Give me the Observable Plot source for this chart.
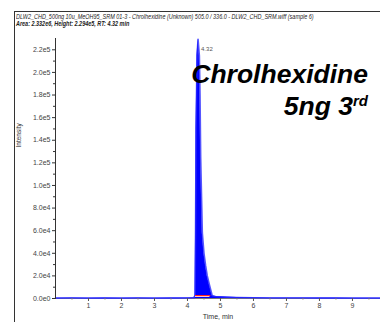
<!DOCTYPE html>
<html><head><meta charset="utf-8">
<script src="https://cdn.jsdelivr.net/npm/d3@7"></script>
<script src="https://cdn.jsdelivr.net/npm/@observablehq/plot@0.6"></script>
<style>
body{margin:0;background:#fff;}
#wrap{position:relative;width:380px;height:322px;overflow:hidden;}
#frame{position:absolute;left:14px;top:11px;width:380px;height:330px;border-left:1px solid #333;border-top:1px solid #333;pointer-events:none;}
.hdr{position:absolute;left:16px;font-family:"Liberation Sans Narrow","Liberation Sans",sans-serif;font-size:6.5px;font-style:italic;color:#222;white-space:nowrap;line-height:1;transform:scaleX(0.84);transform-origin:0 0;}
.ann{position:absolute;right:12px;font-family:"Liberation Sans",Arial,sans-serif;font-weight:bold;font-style:italic;font-size:26.5px;color:#000;white-space:nowrap;line-height:1;}
.ann sup{font-size:15px;vertical-align:0;position:relative;top:-9px;}
</style></head>
<body><div id="wrap"></div>
<script>
// ---- data ----
const titleLine1 = "DLW2_CHD_500ng 10u_MeOH95_SRM 01-3 - Chrolhexidine (Unknown) 505.0 / 336.0 - DLW2_CHD_SRM.wiff (sample 6)";
const titleLine2 = "Area: 2.332e6, Height: 2.294e5, RT: 4.32 min";
const xLabel = "Time, min";
const yLabel = "Intensity";
const peakLabel = "4.32";
const peakRT = [4.32];
const peakHeight = [229400];

const timeMin = [0, 0.5, 1, 1.5, 2, 2.5, 3, 3.5, 4, 4.2, 4.23, 4.245, 4.26, 4.29, 4.32, 4.36, 4.38, 4.40, 4.45, 4.5, 4.55, 4.6, 4.67, 4.75, 4.85, 5.0, 5.2, 5.5, 6.0, 6.5, 7, 7.5, 8, 8.5, 9, 9.5, 9.85];
const intensity = [300, 400, 300, 350, 300, 400, 300, 350, 400, 600, 3000, 60000, 150000, 215000, 229400, 215000, 180000, 125000, 58000, 40000, 29000, 20000, 11500, 2500, 1800, 1500, 1200, 900, 600, 500, 400, 400, 350, 350, 300, 300, 300];

const integT = [4.24, 4.68];
const integLevel = [2600, 2600];
const integLow = [900, 900];

const xTicks = [1, 2, 3, 4, 5, 6, 7, 8, 9];
const xMinorTicks = [0.5, 1.5, 2.5, 3.5, 4.5, 5.5, 6.5, 7.5, 8.5, 9.5];
const yTicks = [0, 20000, 40000, 60000, 80000, 100000, 120000, 140000, 160000, 180000, 200000, 220000];
const yMinorTicks = [10000, 30000, 50000, 70000, 90000, 110000, 130000, 150000, 170000, 190000, 210000];

// ---- build ----
const trace = timeMin.map((t, i) => ({t, v: intensity[i]}));
const integ = integT.map((t, i) => ({t, hi: integLevel[i], lo: integLow[i]}));
const apex = peakRT.map((t, i) => ({t, v: peakHeight[i]}));
const fmt = d => d.toExponential(1).replace("e+", "e");
const tickFont = {fontSize: 7, fill: "#444", fontFamily: "'Liberation Sans Narrow','Liberation Sans',sans-serif"};

const plot = Plot.plot({
  width: 380, height: 322,
  marginLeft: 55, marginRight: 0, marginTop: 38, marginBottom: 24,
  style: {background: "transparent", fontFamily: "'Liberation Sans Narrow','Liberation Sans',sans-serif"},
  x: {domain: [0, 9.85]},
  y: {domain: [0, 230000]},
  marks: [
    Plot.ruleY([0], {stroke: "#777"}),
    Plot.areaY(trace, {x: "t", y: "v", fill: "#0000ff"}),
    Plot.lineY(trace, {x: "t", y: "v", stroke: "#2a2aff", strokeWidth: 1.6, strokeOpacity: 0.8}),
    Plot.areaY(integ, {x: "t", y1: "lo", y2: "hi", fill: "white"}),
    Plot.lineY(integ, {x: "t", y: "hi", stroke: "#ff2020", strokeWidth: 1.2}),
    Plot.frame({anchor: "left", stroke: "#333"}),
    Plot.axisY({ticks: yTicks, tickFormat: fmt, tickSize: 3, tickPadding: 2, label: null, stroke: "#333", ...tickFont}),
    Plot.axisY({ticks: yMinorTicks, tickSize: 2, text: null, label: null, stroke: "#333"}),
    Plot.axisX({ticks: xTicks, tickFormat: d => String(d), tickSize: 3, tickPadding: 2, label: null, stroke: "#555", ...tickFont}),
    Plot.axisX({ticks: xMinorTicks, tickSize: 1.5, text: null, label: null, stroke: "#777"}),
    Plot.text([xLabel], {frameAnchor: "bottom", dy: 20, fontSize: 7, fill: "#333"}),
    Plot.text([yLabel], {frameAnchor: "left", dx: -37, dy: -21, rotate: -90, fontSize: 6.5, fill: "#333"}),
    Plot.text(apex, {x: "t", y: "v", text: () => peakLabel, dx: 3, dy: 10, textAnchor: "start", fontSize: 6, fill: "#555"})
  ]
});

const wrap = document.getElementById("wrap");
wrap.appendChild(plot);
plot.style.position = "absolute";
plot.style.left = "0"; plot.style.top = "0";

const frame = document.createElement("div"); frame.id = "frame"; wrap.appendChild(frame);
const h1 = document.createElement("div"); h1.className = "hdr"; h1.style.top = "14px"; h1.textContent = titleLine1; wrap.appendChild(h1);
const h2 = document.createElement("div"); h2.className = "hdr"; h2.style.top = "21px"; h2.style.fontWeight = "bold"; h2.textContent = titleLine2; wrap.appendChild(h2);
const a1 = document.createElement("div"); a1.className = "ann"; a1.style.top = "61px"; a1.textContent = "Chrolhexidine"; wrap.appendChild(a1);
const a2 = document.createElement("div"); a2.className = "ann"; a2.style.top = "93px";
a2.innerHTML = "5ng 3<sup>rd</sup>"; wrap.appendChild(a2);
</script>
</body></html>
